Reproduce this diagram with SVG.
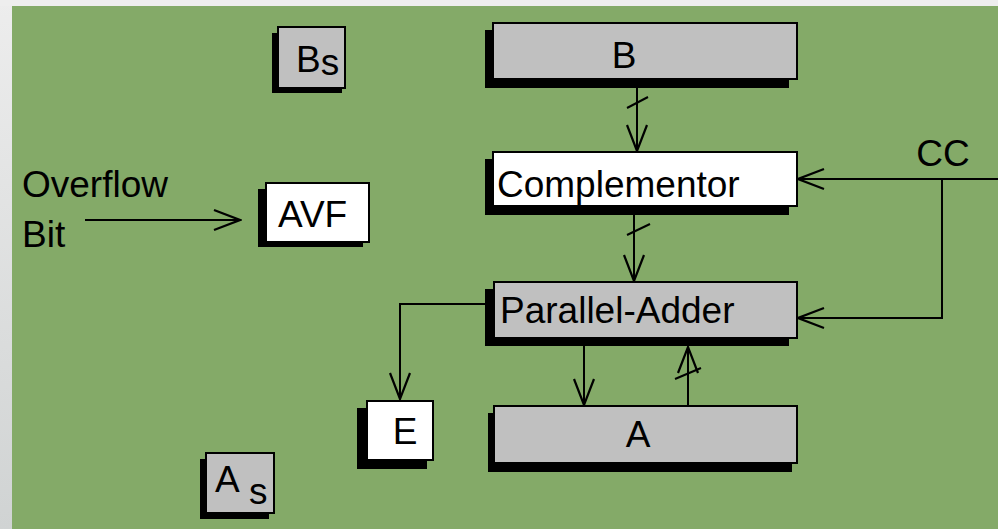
<svg xmlns="http://www.w3.org/2000/svg" width="998" height="529" viewBox="0 0 998 529">
<defs>
<linearGradient id="frame" x1="0" y1="0" x2="0" y2="1">
<stop offset="0" stop-color="#ededed"/>
<stop offset="1" stop-color="#d0d3d3"/>
</linearGradient>
<marker id="arr" markerUnits="userSpaceOnUse" viewBox="-30 -13 32 26" refX="0" refY="0" markerWidth="32" markerHeight="26" orient="auto">
<path d="M-26,-10 L0,0 L-26,10" fill="none" stroke="#000" stroke-width="2.2"/>
</marker>
<style>
.sh{fill:#000}
.g{fill:#c0c0c0;stroke:#000;stroke-width:2}
.w{fill:#fff;stroke:#000;stroke-width:2}
.t{font-family:"Liberation Sans",Arial,sans-serif;font-size:37px;fill:#000}
.c{fill:none;stroke:#000;stroke-width:2}
</style>
</defs>
<rect x="0" y="0" width="998" height="529" fill="url(#frame)"/>
<rect x="0" y="0" width="998" height="6" fill="#eeeeee"/>
<rect x="12" y="6" width="986" height="523" fill="#84aa68"/>

<g id="Bs">
<rect class="sh" x="272" y="33" width="70" height="60"/>
<rect class="g" x="278" y="27" width="67" height="61"/>
<text class="t" x="296" y="72">B<tspan dy="3">s</tspan></text>
</g>
<g id="B">
<rect class="sh" x="485" y="30" width="304" height="58"/>
<rect class="g" x="493" y="23" width="304" height="56"/>
<text class="t" x="624" y="68" text-anchor="middle">B</text>
</g>
<g id="Complementor">
<rect class="sh" x="485" y="159" width="304" height="56"/>
<rect class="w" x="493" y="152" width="304" height="54"/>
<text class="t" x="497" y="197">Complementor</text>
</g>
<g id="ParallelAdder">
<rect class="sh" x="485" y="289" width="304" height="57"/>
<rect class="g" x="494" y="282" width="303" height="56"/>
<text class="t" x="500" y="323">Parallel-Adder</text>
</g>
<g id="A">
<rect class="sh" x="488" y="413" width="304" height="59"/>
<rect class="g" x="494" y="406" width="303" height="57"/>
<text class="t" x="638" y="447" text-anchor="middle">A</text>
</g>
<g id="E">
<rect class="sh" x="357" y="408" width="70" height="61"/>
<rect class="w" x="367" y="401" width="66" height="59"/>
<text class="t" x="405" y="444" text-anchor="middle">E</text>
</g>
<g id="AVF">
<rect class="sh" x="258" y="189" width="105" height="58"/>
<rect class="w" x="266" y="183" width="103" height="59"/>
<text class="t" x="278" y="227">AVF</text>
</g>
<g id="As">
<rect class="sh" x="200" y="459" width="69" height="60"/>
<rect class="g" x="206" y="453" width="68" height="60"/>
<text class="t" x="215" y="492">A</text>
<text class="t" x="249" y="504">s</text>
</g>
<g id="labels">
<text class="t" x="22" y="197">Overflow</text>
<text class="t" x="22" y="247">Bit</text>
<text class="t" x="943" y="166" text-anchor="middle">CC</text>
</g>

<g id="connectors">
<path class="c" d="M637,88 V151" marker-end="url(#arr)"/>
<path class="c" d="M627,108 L648,97"/>
<path class="c" d="M634,215 V281" marker-end="url(#arr)"/>
<path class="c" d="M627,235 L650,224"/>
<path class="c" d="M998,179 H798" marker-end="url(#arr)"/>
<path class="c" d="M942,179 V318 H798" marker-end="url(#arr)"/>
<path class="c" d="M485,304 H400 V399" marker-end="url(#arr)"/>
<path class="c" d="M584,346 V405" marker-end="url(#arr)"/>
<path class="c" d="M688,406 V347" marker-end="url(#arr)"/>
<path class="c" d="M675,379 L701,368"/>
<path class="c" d="M85,220 H240" marker-end="url(#arr)"/>
</g>
</svg>
